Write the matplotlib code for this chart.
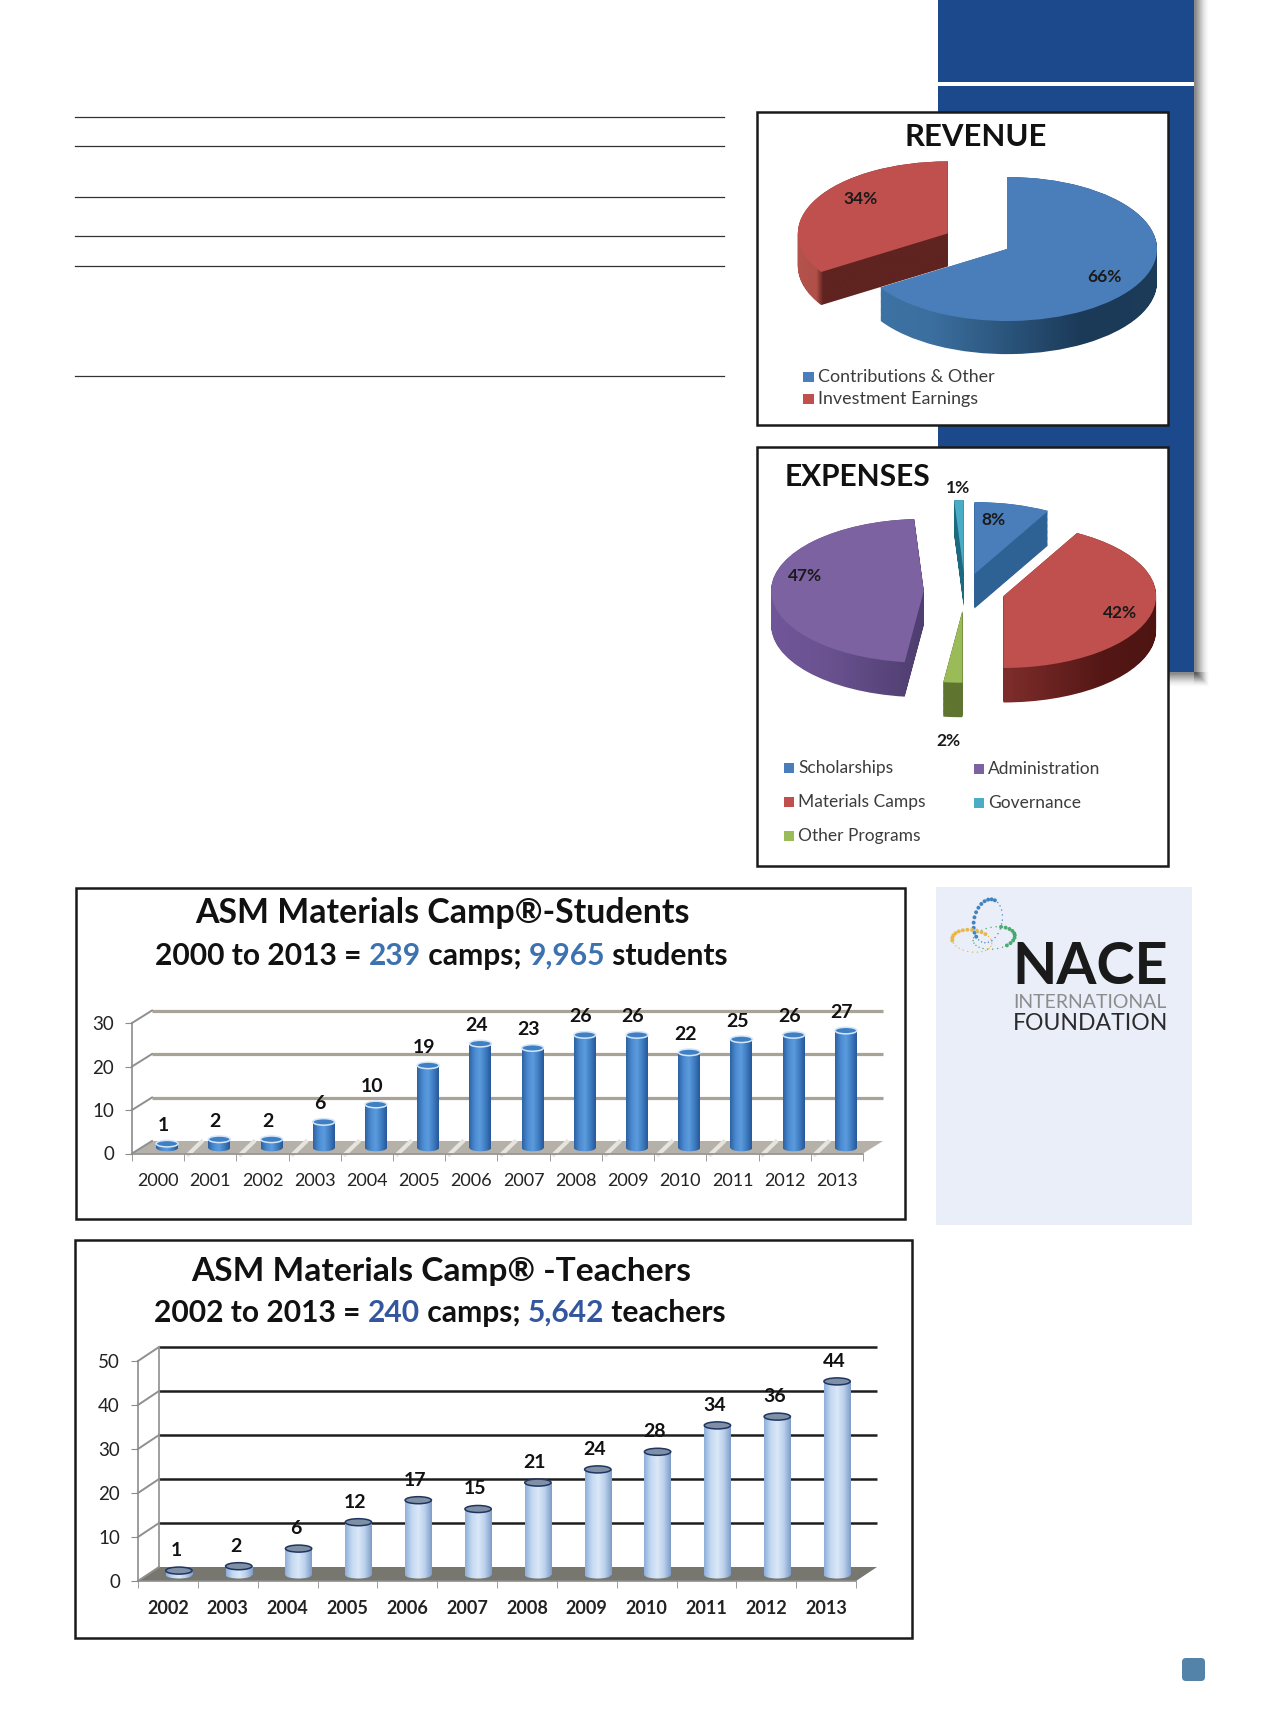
import matplotlib
matplotlib.use('Agg')
import matplotlib.pyplot as plt
from matplotlib.colors import LinearSegmentedColormap
from matplotlib.patches import Ellipse, FancyBboxPatch, PathPatch, Polygon, Rectangle
from matplotlib.path import Path
from matplotlib.transforms import Affine2D, IdentityTransform
import numpy as np

plt.rcParams['font.family'] = ['Lato', 'DejaVu Sans']

W, H = 1266, 1723

revenue_labels = ['Contributions & Other', 'Investment Earnings']
revenue_values = [66, 34]
expense_labels = ['Scholarships', 'Materials Camps', 'Other Programs', 'Administration', 'Governance']
expense_values = [8, 42, 2, 47, 1]

student_years = ['2000', '2001', '2002', '2003', '2004', '2005', '2006',
                 '2007', '2008', '2009', '2010', '2011', '2012', '2013']
student_camps = [1, 2, 2, 6, 10, 19, 24, 23, 26, 26, 22, 25, 26, 27]
teacher_years = ['2002', '2003', '2004', '2005', '2006', '2007',
                 '2008', '2009', '2010', '2011', '2012', '2013']
teacher_camps = [1, 2, 6, 12, 17, 15, 21, 24, 28, 34, 36, 44]

fig = plt.figure(figsize=(W / 100, H / 100), dpi=100, facecolor='white')


def axes_px(x0, y0, x1, y1, **kw):
    return fig.add_axes([x0 / W, 1 - y1 / H, (x1 - x0) / W, (y1 - y0) / H], **kw)


def overlay_axes():
    ax = axes_px(0, 0, W, H)
    ax.set_xlim(0, W)
    ax.set_ylim(H, 0)
    ax.axis('off')
    ax.patch.set_alpha(0)
    return ax


bg = overlay_axes()

# sidebar + shadow
navy = '#1c488c'
for i in range(14):
    a = 0.10 * (1 - i / 14)
    bg.add_patch(Rectangle((1194, 0), 2 + i, 672 + i, fc='#303030', ec='none', alpha=a))
    bg.add_patch(Rectangle((1168, 672), 28 + i, 2 + i, fc='#303030', ec='none', alpha=a))
bg.add_patch(Rectangle((938, 0), 256, 672, fc=navy, ec='none'))
bg.add_patch(Rectangle((938, 82), 256, 4, fc='white', ec='none'))

# ruled lines from the page
for y in [116.5, 146, 197, 236, 266, 376]:
    bg.plot([75, 724], [y, y], color='#333333', lw=0.9)

bg.add_patch(FancyBboxPatch((1182, 1658), 23, 23, boxstyle='round,pad=0,rounding_size=4',
                            fc='#5383a8', ec='none'))

# chart frames
for (x0, y0, x1, y1) in [(757, 112, 1168, 425), (757, 447, 1168, 866),
                         (76, 888, 905, 1219), (75, 1240, 912, 1638)]:
    bg.add_patch(Rectangle((x0, y0), x1 - x0, y1 - y0, fc='white', ec='#1a1a1a', lw=1.8))

bg.add_patch(Rectangle((936, 887), 256, 338, fc='#eaeef8', ec='none'))


def pie3d(rect, values, colors, side_maps, explode, depth):
    ax = axes_px(*rect[:4])
    ax.patch.set_alpha(0)
    ax.axis('off')
    ax.set_xlim(rect[4], rect[5])
    ax.set_ylim(rect[6], rect[7])
    outlines = [[] for _ in values]
    for d in np.linspace(depth, 0, 30):
        wedges, _ = ax.pie(values, explode=explode, startangle=90, counterclock=False,
                           center=(0, -d), colors=colors, frame=True)
        for i, w in enumerate(wedges):
            outlines[i].append(w.get_path().transformed(w.get_patch_transform()))
            w.remove()
    grad = np.linspace(0, 1, 256)[None, :]
    for i, paths in enumerate(outlines):
        clip = PathPatch(Path.make_compound_path(*paths), fc='none', ec='none')
        ax.add_patch(clip)
        im = ax.imshow(grad, cmap=LinearSegmentedColormap.from_list('s', side_maps[i]),
                       extent=[rect[4], rect[5], rect[6], rect[7]], aspect='auto')
        im.set_clip_path(clip)
    ax.pie(values, explode=explode, startangle=90, counterclock=False, colors=colors,
           frame=True)
    ax.set_aspect('auto')
    ax.set_xlim(rect[4], rect[5])
    ax.set_ylim(rect[6], rect[7])
    ax.set_xticks([])
    ax.set_yticks([])
    ax.axis('off')
    return ax


blue, red, green, purple, cyan = '#4a7ebb', '#c0504d', '#9bbb59', '#7d62a1', '#4bacc6'

pie3d((782, 102, 1232, 402, -1.5, 1.5, -2.125, 2.042), revenue_values, [blue, red],
      [['#3f78ad', '#3b6f9f', '#1b3a58', '#1c3d5c'],
       [(0, '#b8544f'), (0.075, '#b05048'), (0.09, '#5f2320'), (1, '#5f2320')]],
      [0, 0.45], 0.46)

pie3d((736, 444, 1194, 764, -1.5, 1.5, -2.4, 2.05), expense_values,
      [blue, red, green, purple, cyan],
      [['#2f6294', '#2f6294'],
       ['#7c2c2a', '#7c2c2a', '#7c2c2a', '#7c2c2a', '#541715', '#4a1310'],
       ['#5f7530', '#5f7530'],
       ['#7459a0', '#6a5290', '#4f3e70', '#6a5290', '#6a5290', '#6a5290'],
       ['#1d6a80', '#1d6a80']],
      [0.25, 0.26, 0.27, 0.27, 0.27], 0.48)

# pie texts go on top of the pie axes
fg = overlay_axes()
tcol = '#3c3c3c'
fg.text(976, 137, 'REVENUE', fontsize=22.4, fontweight='bold', ha='center', va='center', color='#111111')
fg.text(785, 477, 'EXPENSES', fontsize=21.5, fontweight='bold', ha='left', va='center', color='#111111')
for v, (x, y) in zip(revenue_values, [(1104, 277), (861, 199)]):
    fg.text(x, y, f'{v}%', fontsize=12.5, fontweight='bold', ha='center', va='center', color='#1a1a1a')
for v, (x, y) in zip(expense_values, [(993, 520), (1120, 613), (948, 741), (805, 576), (958, 488)]):
    fg.text(x, y, f'{v}%', fontsize=12.5, fontweight='bold', ha='center', va='center', color='#1a1a1a')

for lab, col, y in zip(revenue_labels, [blue, red], [377, 399]):
    fg.add_patch(Rectangle((803, y - 5.5), 10.5, 10.5, fc=col, ec='none'))
    fg.text(818, y, lab, fontsize=12.9, ha='left', va='center', color=tcol)

legend_slots = [(784, 768), (784, 802), (784, 836), (974, 769), (974, 803)]
for lab, col, (x, y) in zip(expense_labels, [blue, red, green, purple, cyan], legend_slots):
    fg.add_patch(Rectangle((x, y - 5), 10, 10, fc=col, ec='none'))
    fg.text(x + 14, y, lab, fontsize=12.5, ha='left', va='center', color=tcol)


def text_width(s, **kw):
    t = bg.text(0, 0, s + '|', **kw)
    w = t.get_window_extent(fig.canvas.get_renderer()).width
    t.set_text('|')
    w -= t.get_window_extent(fig.canvas.get_renderer()).width
    t.remove()
    return w


def parts_line(x, y, parts, **kw):
    prefix = ''
    for s, c in parts:
        bg.text(x + text_width(prefix, **kw), y, s, color=c, va='center', ha='left', **kw)
        prefix += s


bluetxt = '#3d72b0'
navytxt = '#34569f'
bg.text(442, 913, 'ASM Materials Camp\u00ae-Students', fontsize=24.4, fontweight='bold',
        ha='center', va='center', color='#111111')
parts_line(155, 956, [('2000 to 2013 = ', '#111111'), ('239', bluetxt), (' camps; ', '#111111'),
                      ('9,965', bluetxt), (' students', '#111111')], fontsize=21.65, fontweight='bold')
bg.text(441, 1271, 'ASM Materials Camp\u00ae -Teachers', fontsize=24.1, fontweight='bold',
        ha='center', va='center', color='#111111')
parts_line(154, 1313, [('2002 to 2013 = ', '#111111'), ('240', navytxt), (' camps; ', '#111111'),
                       ('5,642', navytxt), (' teachers', '#111111')], fontsize=21.65, fontweight='bold')


def cylinders(rect, labels, values, ymax, step, back, mid, width, cap, body_colors,
              cap_face, cap_edge, grid_col, grid_lw, floor_col, tick_weight, tick_pad, lab_off):
    ax = axes_px(*rect)
    ax.patch.set_alpha(0)
    x = np.arange(len(values))
    ax.set_xlim(-0.5, len(values) - 0.5)
    ax.set_ylim(0, ymax)
    back_t = ax.transData + Affine2D().translate(*back)
    mid_t = ax.transData + Affine2D().translate(*mid)

    yticks = np.arange(0, ymax + 1, step)
    to_px = ax.transData.transform
    # floor
    a, b = to_px((-0.5, 0)), to_px((len(values) - 0.5, 0))
    ax.add_patch(Polygon([a, b, b + back, a + back], closed=True, fc=floor_col, ec='none',
                         transform=IdentityTransform(), clip_on=False, zorder=1))
    # back wall lines
    for yt in yticks:
        if yt > 0:
            ax.plot([-0.5, len(values) - 0.5], [yt, yt], color=grid_col, lw=grid_lw,
                    transform=back_t, clip_on=False, zorder=1.5, solid_capstyle='butt')
        p = to_px((-0.5, yt))
        ax.plot([p[0], p[0] + back[0]], [p[1], p[1] + back[1]], color='#8f8f8f', lw=1.4,
                transform=IdentityTransform(), clip_on=False, zorder=1.5)

    cmap = LinearSegmentedColormap.from_list('cyl', body_colors)
    grad = np.linspace(0, 1, 64)[None, :]
    bars = ax.bar(x, values, width=width, transform=mid_t, color='none', clip_on=False, zorder=2)
    for xi, v, bar in zip(x, values, bars):
        foot = Ellipse((xi, 0), width, cap, fc='none', ec='none', transform=mid_t, clip_on=False)
        ax.add_patch(foot)
        for shape in (foot, bar):
            im = ax.imshow(grad, cmap=cmap, aspect='auto', zorder=2,
                           extent=[xi - width / 2, xi + width / 2, -cap, v + cap])
            im.set_transform(mid_t)
            im.set_clip_path(shape)
        ax.add_patch(Ellipse((xi, v), width, cap, fc=cap_face, ec=cap_edge, lw=1.1,
                             transform=mid_t, clip_on=False, zorder=3))
        ax.annotate(str(v), (xi, v), xytext=lab_off, textcoords='offset pixels', transform=mid_t,
                    xycoords=mid_t, fontsize=14, fontweight='bold', ha='center', va='center',
                    color='#111111', zorder=4, annotation_clip=False)

    for side in ('top', 'right'):
        ax.spines[side].set_visible(False)
    for side in ('left', 'bottom'):
        ax.spines[side].set_color('#8c8c8c')
        ax.spines[side].set_linewidth(1.2)
    ax.set_xticks(x, labels)
    ax.set_xticks(np.arange(-0.5, len(values), 1), minor=True)
    ax.tick_params(axis='x', which='major', length=0, pad=tick_pad, labelsize=13, labelcolor='#222222')
    ax.tick_params(axis='x', which='minor', length=5, color='#8c8c8c')
    ax.set_yticks(yticks)
    ax.tick_params(axis='y', length=5, color='#8c8c8c', labelsize=13.5, labelcolor='#222222', pad=8)
    for t in ax.get_xticklabels():
        t.set_fontweight(tick_weight)
    return ax


students = cylinders((132, 1023, 863, 1153.5), student_years, student_camps, 30, 10,
                     (20, 12.5), (9, 5.5), 0.42, 1.5,
                     ['#2d62a3', '#4a8ad0', '#5c9bdc', '#3f7dc2', '#28589a'],
                     '#3f7fc4', '#d4e6f7', '#a8a297', 2.3, '#b5b1a8', 'normal', 14, (-4, 18))
x_bound = np.arange(-0.5, len(student_camps), 1)
for xb in x_bound[1:-1]:
    students.plot([xb + 0.08, xb + 0.33], [-0.2, 2.7], color='#e6e4df', lw=3, zorder=1.2, clip_on=False)

teachers = cylinders((138, 1361, 856, 1581), teacher_years, teacher_camps, 50, 10,
                     (21, 14), (11, 6), 0.44, 1.6,
                     ['#8fb0da', '#c4d9f2', '#dbe8f8', '#b9cfeb', '#7f9dc8'],
                     '#7f90a6', '#1f3560', '#1e1e1e', 1.8, '#77776f', 'bold', 14, (-3, 20))
teachers.plot([-0.5, -0.5], [0, 50], color='#8f8f8f', lw=1.2, clip_on=False, zorder=1.5,
              transform=teachers.transData + Affine2D().translate(21, 14))

# NACE logo
for (cx, cy, ax_, bx_, ang, col, start, stop) in [
        (988, 921, 14, 22, 12, '#2f78b8', 120, 290),
        (994, 938, 21, 11, -8, '#3aa564', -70, 60),
        (972, 941, 20, 11, 8, '#e8b33c', 160, 320)]:
    t = np.radians(np.arange(0, 360, 14))
    th = np.radians(ang)
    px = cx + ax_ * np.cos(t) * np.cos(th) - bx_ * np.sin(t) * np.sin(th)
    py = cy + ax_ * np.cos(t) * np.sin(th) + bx_ * np.sin(t) * np.cos(th)
    deg = np.degrees(t)
    heavy = ((deg - start) % 360) < ((stop - start) % 360)
    bg.scatter(px, py, s=np.where(heavy, 8, 1), color=col, linewidths=0, alpha=0.9)

bg.text(1012, 967.5, 'NACE', fontsize=41.5, fontweight='bold', ha='left', va='center', color='#1a1a1a')
bg.text(1013, 1003, 'INTERNATIONAL', fontsize=14.0, fontweight='normal', ha='left', va='center', color='#8c8c8c')
bg.text(1013, 1024, 'FOUNDATION', fontsize=16.6, fontweight='normal', ha='left', va='center', color='#2b2b2b')

fig.savefig('out.png', dpi=100)
